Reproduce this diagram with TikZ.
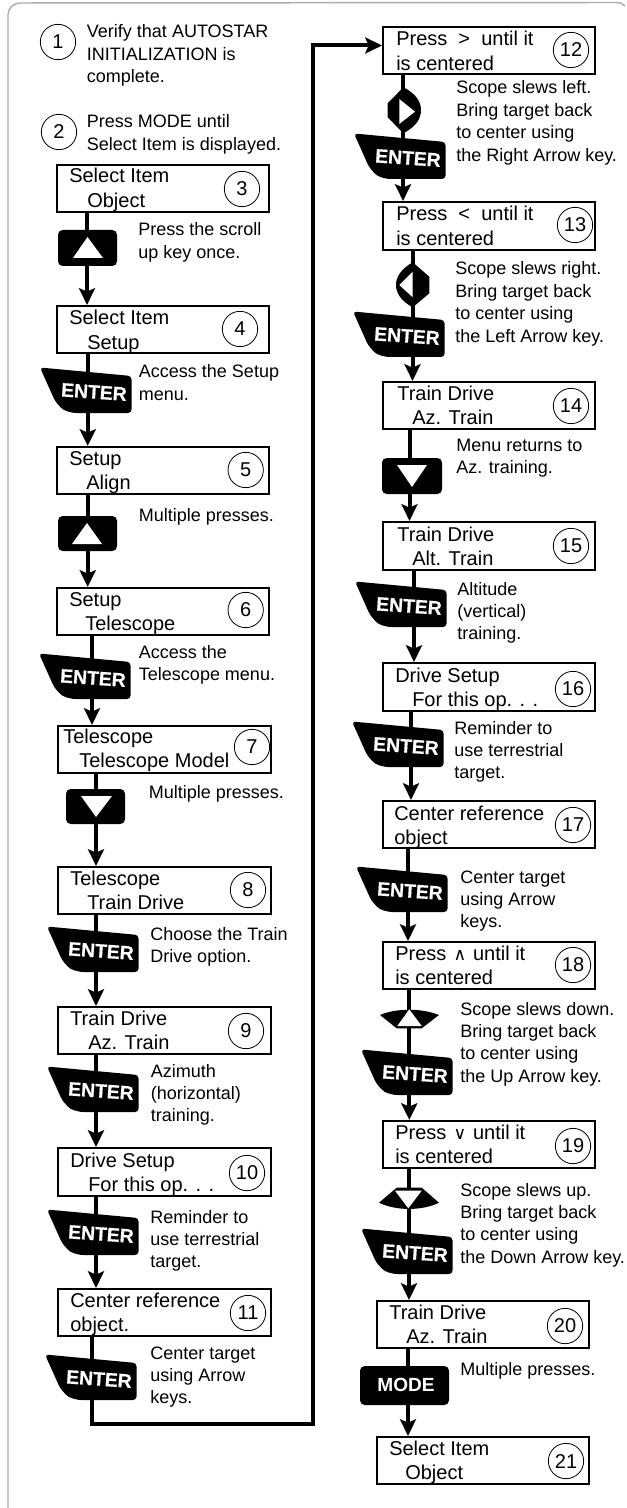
\documentclass[tikz,border=0pt]{standalone}
\usepackage{fontspec}
\setmainfont{Liberation Sans}
\newfontfamily\symf{DejaVu Sans}
\newfontfamily\keyf[BoldFeatures={FakeBold=0.6}]{Liberation Sans}
\usetikzlibrary{arrows.meta}
\tikzset{
  x=0.75pt,y=-0.75pt,
  framebox/.style={draw=black,line width=1.5pt,fill=white,inner sep=0pt,outer sep=0pt},
  boxtext/.style={anchor=base west,inner sep=0pt,font=\fontsize{15}{18.2}\selectfont,text=black},
  notetext/.style={anchor=base west,inner sep=0pt,font=\fontsize{13.5}{16.7}\selectfont,text=black},
  numcircle/.style={draw=black,line width=0.6pt,circle,fill=white,minimum size=26.5pt,inner sep=0pt,font=\fontsize{15}{18}\selectfont,text=black},
  link/.style={draw=black,line width=3pt,-{Stealth[length=12.5pt,width=12pt,inset=2.5pt]},shorten >=0.8pt},
  keytext/.style={font=\fontsize{14.3}{16}\bfseries\selectfont,text=white,inner sep=0pt},
  keytextE/.style={font=\keyf\fontsize{14.5}{16}\bfseries\selectfont,text=white,inner sep=0pt,rotate=-4},
  border/.style={draw=black!32,line width=1.1pt}
}
\newcommand{\stepbox}[5]{%
  \pgfmathsetmacro{\bxw}{(#4-#2-2)*0.75}\pgfmathsetmacro{\bxh}{(#5-#3-2)*0.75}%
  \node[framebox,minimum width=\bxw pt,minimum height=\bxh pt] (b#1) at ({(#2+#4)/2},{(#3+#5)/2}) {};}
\newcommand{\boxlabel}[6]{%
  \node[boxtext] (t#1) at (#2,#3) {\vtop{\baselineskip=18.2pt\lineskip=0pt\hbox{#5}\hbox{\kern#4pt #6}}};}
\newcommand{\stepnum}[4]{\node[numcircle] (n#1) at (#2,#3) {#4};}
\newcommand{\note}[4]{%
  \node[notetext] (c#1) at (#2,#3) {\vtop{\baselineskip=16.8pt\lineskip=0pt #4}};}
\newcommand{\enterkey}[3]{%
  \begin{scope}[shift={(#2,#3)}]
    \fill[black,rounded corners=2.6pt] (-1,-0.5) -- (90.5,8) -- (90.5,45) -- (32,45) -- (22,42) -- (14,33) -- cycle;
    \node[keytextE] (k#1) at (53,24) {ENTER};
  \end{scope}}
\newcommand{\arrowkeybox}[4]{\fill[black,rounded corners=3.5pt] (#1,#2) rectangle (#3,#4);}
\begin{document}
\begin{tikzpicture}
\useasboundingbox (0,0) rectangle (626,1508);
\path[border] (8,1508) -- (8,15) arc[start angle=180,end angle=270,radius=12] -- (616,2.5) .. controls (620,2.5) and (623,3.5) .. (625,6);

% stem and corner coordinates
\foreach \n/\sx in {s3/87,s4/87.7,s5/87.7,s6/92,s7/96,s8/96,s9/96,s10/96,s11/92,s12/403,s13/412.5,s14/409.5,s15/414,s16/411,s17/408,s18/409.3,s19/409,s20/408}
  \coordinate (\n) at (\sx,0);
\coordinate (turnA) at (92,1423.5);
\coordinate (turnB) at (312.5,1423.5);
\coordinate (turnC) at (312.5,45.5);

% boxes
\stepbox{3}{56}{164}{270}{213}
\stepbox{4}{56}{305}{270}{354}
\stepbox{5}{56}{446}{270}{495}
\stepbox{6}{56}{587}{270}{636}
\stepbox{7}{57}{725}{272}{774}
\stepbox{8}{57}{866}{272}{915}
\stepbox{9}{57}{1006}{272}{1055}
\stepbox{10}{57}{1147}{272}{1197}
\stepbox{11}{57}{1288}{272}{1337}
\stepbox{12}{382}{26}{596}{75}
\stepbox{13}{382}{201}{596}{251}
\stepbox{14}{382}{381}{596}{430}
\stepbox{15}{382}{521}{596}{571}
\stepbox{16}{382}{662}{596}{712}
\stepbox{17}{382}{800}{596}{849}
\stepbox{18}{382}{941}{596}{990}
\stepbox{19}{382}{1120}{596}{1169}
\stepbox{20}{376}{1300}{590}{1349}
\stepbox{21}{376}{1436}{590}{1485}

% connectors
\draw[link] (b3.south -| s3) -- (b4.north -| s3);
\draw[link] (b4.south -| s4) -- (b5.north -| s4);
\draw[link] (b5.south -| s5) -- (b6.north -| s5);
\draw[link] (b6.south -| s6) -- (b7.north -| s6);
\draw[link] (b7.south -| s7) -- (b8.north -| s7);
\draw[link] (b8.south -| s8) -- (b9.north -| s8);
\draw[link] (b9.south -| s9) -- (b10.north -| s9);
\draw[link] (b10.south -| s10) -- (b11.north -| s10);
\draw[link] (b11.south -| s11) -- (turnA) -- (turnB) -- (turnC) -- (b12.west |- turnC);
\draw[link] (b12.south -| s12) -- (b13.north -| s12);
\draw[link] (b13.south -| s13) -- (b14.north -| s13);
\draw[link] (b14.south -| s14) -- (b15.north -| s14);
\draw[link] (b15.south -| s15) -- (b16.north -| s15);
\draw[link] (b16.south -| s16) -- (b17.north -| s16);
\draw[link] (b17.south -| s17) -- (b18.north -| s17);
\draw[link] (b18.south -| s18) -- (b19.north -| s18);
\draw[link] (b19.south -| s19) -- (b20.north -| s19);
\draw[link] (b20.south -| s20) -- (b21.north -| s20);

% box labels: number, x, first baseline, indent of line 2 (pt), lines
\boxlabel{3}{69}{183}{13.5}{Select Item}{Object}
\boxlabel{4}{69}{325}{13.5}{Select Item}{Setup}
\boxlabel{5}{69}{465}{12.75}{Setup}{Align}
\boxlabel{6}{69}{606}{12}{Setup}{Telescope}
\boxlabel{7}{63}{743}{12}{Telescope}{Telescope Model}
\boxlabel{8}{70}{885}{12.75}{Telescope}{Train Drive}
\boxlabel{9}{70}{1025}{13.5}{Train Drive}{Az. Train}
\boxlabel{10}{70}{1167}{13.5}{Drive Setup}{For this op. . .}
\boxlabel{11}{70}{1307}{0}{Center reference}{object.}
\boxlabel{12}{396}{46}{0}{Press\ \ >\ \ until it}{is centered}
\boxlabel{13}{396}{221}{0}{Press\ \ <\ \ until it}{is centered}
\boxlabel{14}{397}{400}{11.25}{Train Drive}{Az. Train}
\boxlabel{15}{397}{541}{11.25}{Train Drive}{Alt. Train}
\boxlabel{16}{395}{682}{12.75}{Drive Setup}{For this op. . .}
\boxlabel{17}{394}{820}{0}{Center reference}{object}
\boxlabel{18}{395}{960}{0}{Press\kern5.5pt{\symf\fontsize{13}{14}\selectfont ∧}\kern5pt until it}{is centered}
\boxlabel{19}{395}{1139}{0}{Press\kern5.5pt{\symf\fontsize{13}{14}\selectfont ∨}\kern5pt until it}{is centered}
\boxlabel{20}{389}{1319}{12.75}{Train Drive}{Az. Train}
\boxlabel{21}{389}{1455}{12}{Select Item}{Object}

% numbers
\stepnum{1}{58}{42}{1}
\stepnum{2}{59}{132}{2}
\stepnum{3}{242}{189}{3}
\stepnum{4}{240}{329}{4}
\stepnum{5}{245.7}{470}{5}
\stepnum{6}{245.7}{610}{6}
\stepnum{7}{252}{747}{7}
\stepnum{8}{248}{890}{8}
\stepnum{9}{246}{1031}{9}
\stepnum{10}{247}{1173}{10}
\stepnum{11}{248}{1313}{11}
\stepnum{12}{571}{50}{12}
\stepnum{13}{575}{225}{13}
\stepnum{14}{571}{406}{14}
\stepnum{15}{571}{546}{15}
\stepnum{16}{573}{689}{16}
\stepnum{17}{573}{825}{17}
\stepnum{18}{573}{965}{18}
\stepnum{19}{573}{1146}{19}
\stepnum{20}{565}{1326}{20}
\stepnum{21}{566}{1461}{21}

% notes
\note{1}{86.7}{38}{\hbox{Verify that AUTOSTAR}\hbox{INITIALIZATION is}\hbox{complete.}}
\note{2}{86.7}{128}{\hbox{Press MODE until}\hbox{Select Item is displayed.}}
\note{3}{138}{236}{\hbox{Press the scroll}\hbox{up key once.}}
\note{4}{138.7}{378}{\hbox{Access the Setup}\hbox{menu.}}
\note{5}{138.7}{521}{\hbox{Multiple presses.}}
\note{6}{138.7}{658}{\hbox{Access the}\hbox{Telescope menu.}}
\note{7}{148.7}{798}{\hbox{Multiple presses.}}
\note{8}{150}{940}{\hbox{Choose the Train}\hbox{Drive option.}}
\note{9}{150.7}{1077}{\hbox{Azimuth}\hbox{(horizontal)}\hbox{training.}}
\note{10}{150}{1223}{\hbox{Reminder to}\hbox{use terrestrial}\hbox{target.}}
\note{11}{150}{1359}{\hbox{Center target}\hbox{using Arrow}\hbox{keys.}}
\note{12}{456}{94}{\hbox{Scope slews left.}\hbox{Bring target back}\hbox{to center using}\hbox{the Right Arrow key.}}
\note{13}{455}{275}{\hbox{Scope slews right.}\hbox{Bring target back}\hbox{to center using}\hbox{the Left Arrow key.}}
\note{14}{456}{451}{\hbox{Menu returns to}\hbox{Az. training.}}
\note{15}{457}{595}{\hbox{Altitude}\hbox{(vertical)}\hbox{training.}}
\note{16}{454}{734}{\hbox{Reminder to}\hbox{use terrestrial}\hbox{target.}}
\note{17}{460}{883}{\hbox{Center target}\hbox{using Arrow}\hbox{keys.}}
\note{18}{460}{1015}{\hbox{Scope slews down.}\hbox{Bring target back}\hbox{to center using}\hbox{the Up Arrow key.}}
\note{19}{460}{1196}{\hbox{Scope slews up.}\hbox{Bring target back}\hbox{to center using}\hbox{the Down Arrow key.}}
\note{20}{460}{1375}{\hbox{Multiple presses.}}

% ENTER keys
\enterkey{4}{41}{368}
\enterkey{6}{40}{654}
\enterkey{8}{48}{927}
\enterkey{9}{48}{1067}
\enterkey{10}{48}{1210}
\enterkey{11}{46}{1355}
\enterkey{12}{355}{134}
\enterkey{13}{354}{312}
\enterkey{15}{356}{582}
\enterkey{16}{353}{722}
\enterkey{17}{357}{867}
\enterkey{18}{362}{1050}
\enterkey{19}{362}{1229}

% scroll keys
\arrowkeybox{58}{230}{117}{266}
\fill[white] (87.5,237) -- (73,258) -- (103,258) -- cycle;
\arrowkeybox{58}{516}{117}{551}
\fill[white] (87,523) -- (72,544) -- (102,544) -- cycle;
\arrowkeybox{66}{789}{125}{824}
\fill[white] (81,796) -- (112,796) -- (96,817) -- cycle;
\arrowkeybox{382}{458}{442}{494}
\fill[white] (397,465) -- (427,465) -- (412,487) -- cycle;

% mode key
\arrowkeybox{360}{1366}{449}{1405}
\node[keytext] (kmode) at (406,1385) {MODE};

% right arrow key
\fill[black] (387.7,103.3) -- (403.3,87.3) .. controls (417,94) and (421,103) .. (421,110) .. controls (421,118) and (417,126) .. (403.3,133.3) -- (387.7,117.3) -- cycle;
\fill[white] (399.3,99) -- (415,111.7) -- (399.3,124) -- cycle;
% left arrow key
\fill[black] (429.3,276.7) -- (412.7,262.3) .. controls (401,269) and (396,277) .. (396,285) .. controls (396,293) and (401,301) .. (412.7,307.3) -- (429.3,293.3) -- cycle;
\fill[white] (412.7,271.7) -- (399.3,285) -- (412.7,297.3) -- cycle;
% up arrow key
\fill[black] (380,1015) .. controls (396,1008) and (422,1008) .. (439,1015) -- (421.7,1028.3) -- (396.7,1028.3) -- cycle;
\fill[white] (409.3,1009.3) -- (397.3,1026) -- (421.7,1026) -- cycle;
% down arrow key
\fill[black] (379,1202.7) .. controls (396,1211) and (422,1211) .. (439,1202.7) -- (421.7,1187.7) -- (396.7,1187.7) -- cycle;
\fill[white] (395,1190.7) -- (421.7,1190.7) -- (408.3,1208.3) -- cycle;
\end{tikzpicture}
\end{document}
